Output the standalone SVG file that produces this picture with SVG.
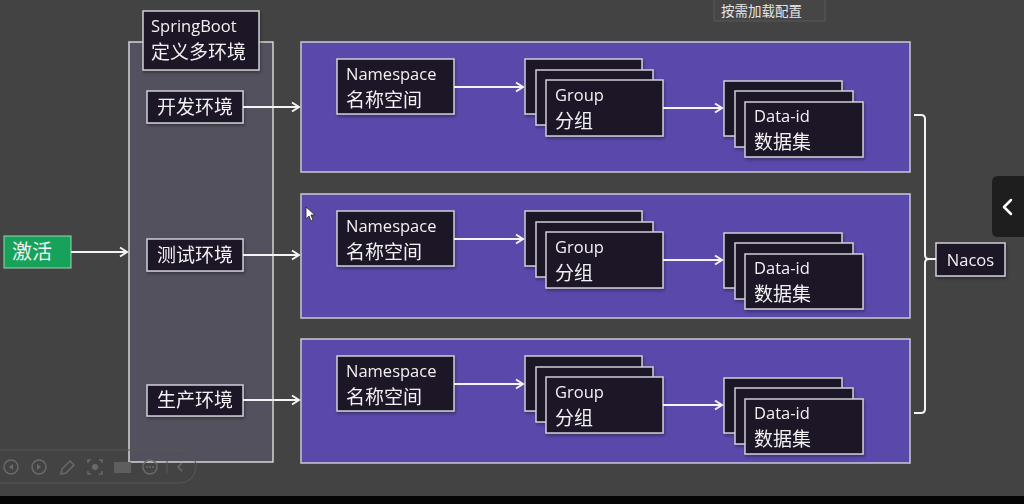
<svg xmlns="http://www.w3.org/2000/svg" width="1024" height="504" viewBox="0 0 1024 504">
<defs>
<style>
.bg{fill:#434343}
.box{fill:#1d1327;stroke:#cfcfd6;stroke-width:1.5}
.panel{fill:#5a49aa;stroke:#c9c9d2;stroke-width:1.5}
.lat{font-family:"Open Sans","Noto Sans",sans-serif;font-size:16.5px;fill:#f2f2f2}
.cjk{font-family:"Noto Sans CJK SC","Noto Sans",sans-serif;font-size:19px;fill:#f2f2f2}
.conn{stroke:#f4f4f4;stroke-width:2;fill:none}
.tb{stroke:#6a6a6a;stroke-width:1.5;fill:none}
</style>
<marker id="arr" markerWidth="12" markerHeight="12" refX="9" refY="6" orient="auto" markerUnits="userSpaceOnUse">
<path d="M2,1.5 L9,6 L2,10.5" fill="none" stroke="#f4f4f4" stroke-width="2"/>
</marker>
<filter id="sh" x="-10%" y="-10%" width="130%" height="140%"><feDropShadow dx="1" dy="2" stdDeviation="1.5" flood-color="#000" flood-opacity="0.35"/></filter>
</defs>
<rect class="bg" x="0" y="0" width="1024" height="504"/>
<rect x="0" y="496" width="1024" height="8" fill="#050505"/>

<g id="tip">
<rect x="714" y="-4" width="111" height="25" fill="#464646" stroke="#585858" stroke-width="1"/>
<text x="721" y="16" font-family="Noto Sans CJK SC,sans-serif" font-size="13.5" fill="#e6e6e6">按需加载配置</text>
</g>

<g id="springboot-container">
<rect x="129" y="42" width="144" height="420" fill="#53515e" stroke="#d4d4d8" stroke-width="1.5"/>
</g>
<g id="springboot-title" filter="url(#sh)">
<rect class="box" x="143" y="11" width="116" height="59"/>
<text class="lat" x="151" y="32">SpringBoot</text>
<text class="cjk" x="151" y="59">定义多环境</text>
</g>
<g id="env-dev" filter="url(#sh)">
<rect class="box" x="147" y="91" width="96" height="32"/>
<text class="cjk" x="195" y="113.5" text-anchor="middle">开发环境</text>
</g>
<g id="env-test" filter="url(#sh)">
<rect class="box" x="147" y="239" width="96" height="32"/>
<text class="cjk" x="195" y="261.5" text-anchor="middle">测试环境</text>
</g>
<g id="env-prod" filter="url(#sh)">
<rect class="box" x="147" y="385" width="96" height="31"/>
<text class="cjk" x="195" y="407" text-anchor="middle">生产环境</text>
</g>
<g id="activate">
<rect x="4" y="236" width="67" height="32" fill="#17a25b" stroke="#9fd6b4" stroke-width="1"/>
<text class="cjk" x="12" y="259" style="font-size:20px">激活</text>
</g>

<g id="panel-1">
<rect class="panel" x="301" y="42" width="609" height="130"/>
</g>
<g id="panel-2">
<rect class="panel" x="301" y="194" width="609" height="124"/>
</g>
<g id="panel-3">
<rect class="panel" x="301" y="339" width="609" height="124"/>
</g>

<g id="ns-1" filter="url(#sh)"><rect class="box" x="337" y="59" width="117" height="55"/><text class="lat" x="346" y="80">Namespace</text><text class="cjk" x="346" y="107">名称空间</text></g>
<g id="ns-2" filter="url(#sh)"><rect class="box" x="337" y="211" width="117" height="55"/><text class="lat" x="346" y="232">Namespace</text><text class="cjk" x="346" y="259">名称空间</text></g>
<g id="ns-3" filter="url(#sh)"><rect class="box" x="337" y="356" width="117" height="55"/><text class="lat" x="346" y="377">Namespace</text><text class="cjk" x="346" y="404">名称空间</text></g>

<g id="group-1" filter="url(#sh)">
<rect class="box" x="525" y="59" width="117" height="55"/>
<rect class="box" x="536" y="70" width="117" height="55"/>
<rect class="box" x="546" y="80" width="117" height="56"/>
<text class="lat" x="555" y="101">Group</text><text class="cjk" x="555" y="128">分组</text>
</g>
<g id="group-2" filter="url(#sh)">
<rect class="box" x="525" y="211" width="117" height="55"/>
<rect class="box" x="536" y="222" width="117" height="55"/>
<rect class="box" x="546" y="232" width="117" height="56"/>
<text class="lat" x="555" y="253">Group</text><text class="cjk" x="555" y="280">分组</text>
</g>
<g id="group-3" filter="url(#sh)">
<rect class="box" x="525" y="356" width="117" height="55"/>
<rect class="box" x="536" y="367" width="117" height="55"/>
<rect class="box" x="546" y="377" width="117" height="56"/>
<text class="lat" x="555" y="398">Group</text><text class="cjk" x="555" y="425">分组</text>
</g>

<g id="data-1" filter="url(#sh)">
<rect class="box" x="724" y="81" width="118" height="55"/>
<rect class="box" x="735" y="91" width="118" height="56"/>
<rect class="box" x="745" y="102" width="118" height="55"/>
<text class="lat" x="754" y="122">Data-id</text><text class="cjk" x="754" y="149">数据集</text>
</g>
<g id="data-2" filter="url(#sh)">
<rect class="box" x="724" y="233" width="118" height="55"/>
<rect class="box" x="735" y="243" width="118" height="56"/>
<rect class="box" x="745" y="254" width="118" height="55"/>
<text class="lat" x="754" y="274">Data-id</text><text class="cjk" x="754" y="301">数据集</text>
</g>
<g id="data-3" filter="url(#sh)">
<rect class="box" x="724" y="378" width="118" height="55"/>
<rect class="box" x="735" y="388" width="118" height="56"/>
<rect class="box" x="745" y="399" width="118" height="55"/>
<text class="lat" x="754" y="419">Data-id</text><text class="cjk" x="754" y="446">数据集</text>
</g>

<g id="nacos" filter="url(#sh)">
<rect class="box" x="936" y="243" width="69" height="33"/>
<text class="lat" x="970.5" y="266" text-anchor="middle">Nacos</text>
</g>

<g id="connectors">
<line class="conn" x1="71" y1="252" x2="127" y2="252" marker-end="url(#arr)"/>
<line class="conn" x1="243" y1="107" x2="299" y2="107" marker-end="url(#arr)"/>
<line class="conn" x1="243" y1="255" x2="299" y2="255" marker-end="url(#arr)"/>
<line class="conn" x1="243" y1="400" x2="299" y2="400" marker-end="url(#arr)"/>
<line class="conn" x1="454" y1="87" x2="523" y2="87" marker-end="url(#arr)"/>
<line class="conn" x1="454" y1="239" x2="523" y2="239" marker-end="url(#arr)"/>
<line class="conn" x1="454" y1="384" x2="523" y2="384" marker-end="url(#arr)"/>
<line class="conn" x1="663" y1="108" x2="722" y2="108" marker-end="url(#arr)"/>
<line class="conn" x1="663" y1="260" x2="722" y2="260" marker-end="url(#arr)"/>
<line class="conn" x1="663" y1="405" x2="722" y2="405" marker-end="url(#arr)"/>
<path class="conn" d="M914,115 H921 Q925,115 925,119 V255 Q925,259 929,259 H936 M929,259 Q925,259 925,263 V409 Q925,413 921,413 H914"/>
</g>

<g id="side-tab">
<path d="M1024,176 H998 Q992,176 992,182 V231 Q992,237 998,237 H1024 Z" fill="#1e1e1e"/>
<path d="M1011,200 L1004,207 L1011,214" fill="none" stroke="#ffffff" stroke-width="2.5" stroke-linecap="round" stroke-linejoin="round"/>
</g>

<g id="toolbar">
<rect x="-20" y="450" width="216" height="33" rx="16.5" fill="none" stroke="#585858" stroke-width="1"/>
<circle class="tb" cx="11" cy="467" r="7"/><path d="M13,464 L9,467 L13,470Z" fill="#6a6a6a"/>
<circle class="tb" cx="39" cy="467" r="7"/><path d="M37,464 L41,467 L37,470Z" fill="#6a6a6a"/>
<path class="tb" d="M61,474 L62,469 L70,461 L74,465 L66,473Z"/>
<path class="tb" d="M88,463 V460 H91 M99,460 H102 V463 M102,471 V474 H99 M91,474 H88 V471"/><circle cx="95" cy="467" r="3" fill="#6a6a6a"/>
<rect x="114" y="462" width="17" height="11" fill="#5e5e5e"/>
<circle class="tb" cx="150" cy="467" r="7"/><circle cx="147" cy="467" r="1" fill="#6a6a6a"/><circle cx="150" cy="467" r="1" fill="#6a6a6a"/><circle cx="153" cy="467" r="1" fill="#6a6a6a"/>
<line x1="167" y1="461" x2="167" y2="473" stroke="#5a5a5a" stroke-width="1"/>
<path class="tb" d="M182,463 L178,467 L182,471"/>
</g>

<g id="cursor">
<path d="M306,207 L306,219 L309,216 L311,221 L313,220 L311,215 L315,215 Z" fill="#ffffff" stroke="#222" stroke-width="0.8"/>
</g>
</svg>
